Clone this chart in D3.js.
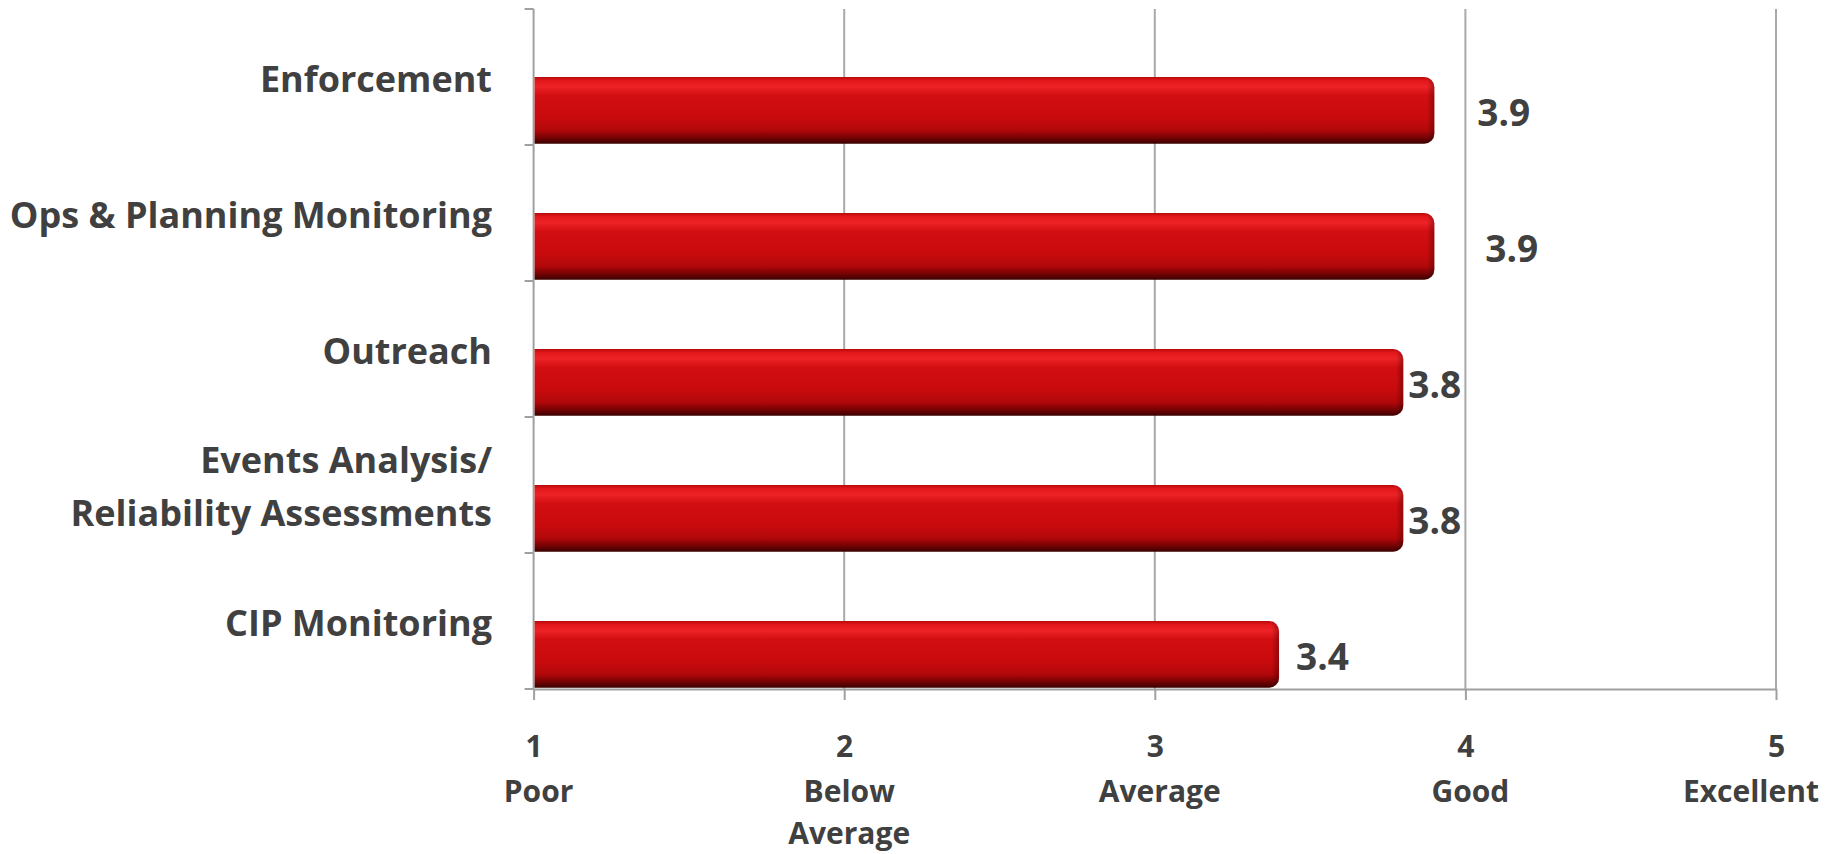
<!DOCTYPE html>
<html>
<head>
<meta charset="utf-8">
<script src="https://cdn.jsdelivr.net/npm/d3@7"></script>
<style>
  html, body { margin: 0; padding: 0; background: #ffffff; }
  svg { display: block; }
  text { font-family: "Open Sans", Lato, sans-serif; font-weight: 700; fill: #404040; }
</style>
</head>
<body>
<svg id="chart" width="1831" height="854"></svg>
<script>
// ---- data ----
const categories = ["Enforcement", "Ops & Planning Monitoring", "Outreach", "Events Analysis/\nReliability Assessments", "CIP Monitoring"];
const scores = [3.9, 3.9, 3.8, 3.8, 3.4];
const scoreLabels = ["3.9", "3.9", "3.8", "3.8", "3.4"];
const tickValues = [1, 2, 3, 4, 5];
const tickNames = ["Poor", "Below\nAverage", "Average", "Good", "Excellent"];

// ---- layout (not data) ----
const labelNudge = [43, 51, 5, 5, 17];
const W = 1831, H = 854;
const plot = { left: 533.6, right: 1776, top: 9, bottom: 689 };
const FONT = "'Open Sans', Lato, sans-serif";

const svg = d3.select("#chart");

const x = d3.scaleLinear().domain([1, 5]).range([plot.left, plot.right]);
const y = d3.scaleBand().domain(categories).range([plot.top, plot.bottom]).paddingInner(0).paddingOuter(0);
const bw = y.bandwidth();

// gradient for bars
const defs = svg.append("defs");
const g1 = defs.append("linearGradient").attr("id", "barGrad").attr("x1", 0).attr("y1", 0).attr("x2", 0).attr("y2", 1);
[
  [0, "#b50a0c"], [0.05, "#e0161a"], [0.14, "#ee2326"], [0.28, "#d20e12"],
  [0.6, "#c90b0e"], [0.8, "#b2080a"], [0.92, "#700204"], [1, "#3a0000"]
].forEach(([o, c]) => g1.append("stop").attr("offset", o).attr("stop-color", c));
const g2 = defs.append("linearGradient").attr("id", "endGrad").attr("x1", 0).attr("y1", 0).attr("x2", 1).attr("y2", 0);
[[0, "#000", 0], [0.6, "#000", 0], [1, "#300000", 0.35]].forEach(([o, c, a]) =>
  g2.append("stop").attr("offset", o).attr("stop-color", c).attr("stop-opacity", a));

// gridlines
svg.append("g").selectAll("line").data(tickValues.slice(1)).join("line")
  .attr("x1", d => x(d)).attr("x2", d => x(d))
  .attr("y1", plot.top).attr("y2", plot.bottom)
  .attr("stroke", "#a9a9a9").attr("stroke-width", 2);

// x axis
const xAxis = svg.append("g").attr("transform", `translate(0,${plot.bottom})`)
  .call(d3.axisBottom(x).tickValues(tickValues).tickSize(11).tickSizeOuter(0).tickFormat(d3.format("d")));
xAxis.select(".domain").attr("stroke", "#a0a0a0").attr("stroke-width", 2);
xAxis.selectAll(".tick line").attr("stroke", "#a0a0a0").attr("stroke-width", 2);
xAxis.selectAll(".tick text")
  .attr("y", 68).attr("dy", 0)
  .style("font-family", FONT).style("font-weight", 700)
  .style("font-size", "30px").attr("fill", "#404040");

// x tick names
const names = svg.append("g");
tickValues.forEach((v, i) => {
  const lines = tickNames[i].split("\n");
  const t = names.append("text").attr("text-anchor", "middle").style("font-size", "30px");
  lines.forEach((ln, j) => t.append("tspan").attr("x", x(v) + 5).attr("y", 802 + j * 42).text(ln));
  const w = t.node().getBBox().width;
  if (x(v) + 5 + w / 2 > W - 12) t.selectAll("tspan").attr("x", W - 12 - w / 2);
});

// y axis line
svg.append("line").attr("x1", plot.left).attr("x2", plot.left).attr("y1", plot.top).attr("y2", plot.bottom)
  .attr("stroke", "#a0a0a0").attr("stroke-width", 2);
// category boundary ticks
const bounds = categories.map(c => y(c)).concat([y.range()[1]]);
svg.append("g").selectAll("line").data(bounds).join("line")
  .attr("x1", plot.left - 9).attr("x2", plot.left)
  .attr("y1", d => d).attr("y2", d => d)
  .attr("stroke", "#a0a0a0").attr("stroke-width", 2);

// bars
const r = 10;
function barPath(x0, y0, x1, h) {
  const p = d3.path();
  p.moveTo(x0, y0);
  p.lineTo(x1 - r, y0);
  p.arcTo(x1, y0, x1, y0 + r, r);
  p.lineTo(x1, y0 + h - r);
  p.arcTo(x1, y0 + h, x1 - r, y0 + h, r);
  p.lineTo(x0, y0 + h);
  p.closePath();
  return p.toString();
}
const barTop = c => y(c) + bw * 0.5;
const barH = bw * 0.49;

const bars = svg.append("g");
bars.selectAll("path.bar").data(categories).join("path")
  .attr("class", "bar")
  .attr("d", (c, i) => barPath(x(1) + 1, barTop(c), x(scores[i]), barH))
  .attr("fill", "url(#barGrad)");
bars.selectAll("path.barend").data(categories).join("path")
  .attr("class", "barend")
  .attr("d", (c, i) => barPath(x(scores[i]) - 18, barTop(c), x(scores[i]), barH))
  .attr("fill", "url(#endGrad)");

// value labels
svg.append("g").selectAll("text").data(categories).join("text")
  .attr("x", (c, i) => x(scores[i]) + labelNudge[i])
  .attr("y", c => barTop(c) + barH / 2 + 2)
  .attr("dy", "0.36em")
  .style("font-size", "37px")
  .text((c, i) => scoreLabels[i]);

// category labels
const catG = svg.append("g");
categories.forEach(c => {
  const lines = c.split("\n");
  const lh = 53;
  const center = barTop(c) + 2;
  const t = catG.append("text").attr("text-anchor", "end").style("font-size", "36px");
  lines.forEach((ln, j) => {
    t.append("tspan").attr("x", 492)
      .attr("y", center - (lines.length - 1) * lh / 2 + j * lh)
      .attr("dy", "0.36em").text(ln);
  });
});
</script>
</body>
</html>
